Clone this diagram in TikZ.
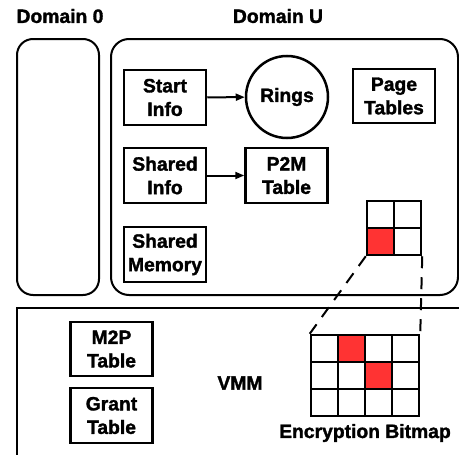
\documentclass[tikz,border=0pt]{standalone}
\usepackage{fontspec}
\setmainfont{Liberation Sans}[BoldFeatures={FakeBold=1.6}]
\usetikzlibrary{arrows.meta}
\definecolor{cellred}{HTML}{FF3333}
\begin{document}
\begin{tikzpicture}[x=1pt,y=-1pt,
  font=\bfseries\fontsize{19.3}{23.5}\selectfont,
  box/.style={draw, line width=2.5pt, minimum width=82pt, minimum height=55pt, align=center, inner sep=0pt},
  frame/.style={draw, line width=2pt},
  arr/.style={line width=2pt, -{Triangle[length=9pt,width=7pt]}},
  dash line/.style={line width=2pt, dash pattern=on 12pt off 9pt},
  gridline/.style={line width=2.5pt}]
\useasboundingbox (0,0) rectangle (459,455);
\clip (0,0) rectangle (459,455);
% labels
\node (d0) at (60,16) {Domain 0};
\node (du) at (278,16) {Domain U};
% domain frames
\draw[frame, rounded corners=16pt] (17,39) rectangle (99,295);
\draw[frame, rounded corners=18pt] (111,39) rectangle (458,295);
% VMM frame
\draw[frame] (17,308) rectangle (470,470);
% domain U content
\node[box] (start) at (165,97.5) {Start\\Info};
\node[draw, circle, line width=2.5pt, minimum size=82pt, inner sep=0pt] (rings) at (287,97) {Rings};
\node[box, minimum height=54pt] (page) at (394,96) {Page\\Tables};
\node[box] (shinfo) at (165,175.5) {Shared\\Info};
\node[box] (p2m) at (286.5,175.5) {P2M\\Table};
\node[box] (shmem) at (165,254.5) {Shared\\Memory};
\draw[arr] (start) -- (rings);
\draw[arr] (shinfo) -- (p2m);
% small grid
\fill[cellred] (367,228) rectangle (394,255);
\node[draw, gridline, minimum width=54pt, minimum height=54pt, inner sep=0pt] (sg) at (394,228) {};
\draw[gridline] (394,201) -- (394,255);
\draw[gridline] (367,228) -- (421,228);
% VMM content
\node[box, minimum height=54pt] (m2p) at (111.5,349) {M2P\\Table};
\node[box] (grant) at (111.5,415.5) {Grant\\Table};
\node (vmm) at (240,383) {VMM};
% big grid
\fill[cellred] (338,335) rectangle (365,362);
\fill[cellred] (365,362) rectangle (392,389);
\node[draw, gridline, minimum width=108pt, minimum height=81pt, inner sep=0pt] (bg) at (365,375.5) {};
\foreach \xx in {338,365,392} \draw[gridline] (\xx,335) -- (\xx,416);
\foreach \yy in {362,389} \draw[gridline] (311,\yy) -- (419,\yy);
\node (enc) at (365,433) {Encryption Bitmap};
% dashed connectors
\draw[dash line] (sg.south west) -- (bg.north west);
\draw[dash line] (sg.south east) -- (bg.north east);
\end{tikzpicture}
\end{document}
